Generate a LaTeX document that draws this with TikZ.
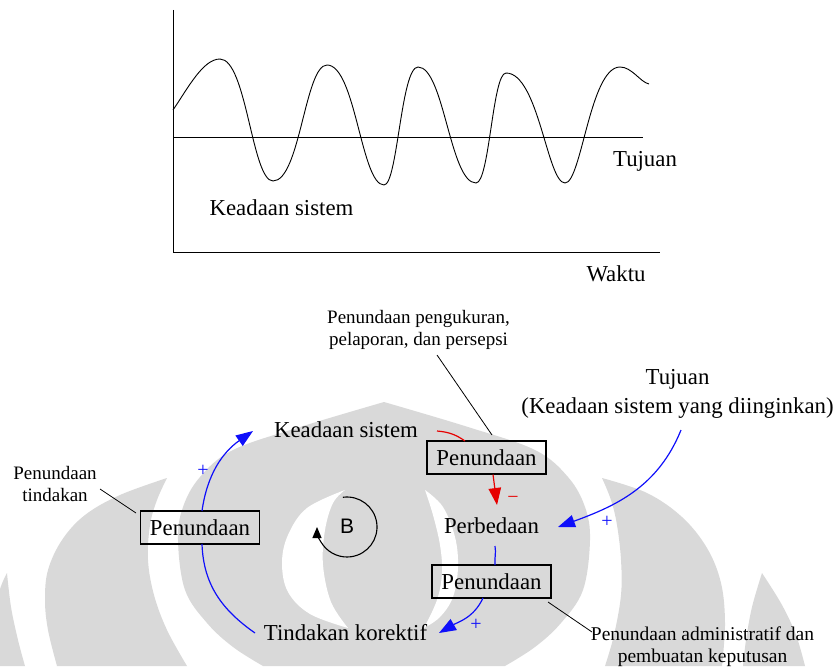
\documentclass[tikz,border=0pt]{standalone}
\usepackage{fontspec}
\setmainfont{Liberation Serif}
\newfontfamily\sansB{Liberation Sans}
\usetikzlibrary{arrows.meta,calc}
\definecolor{wm}{RGB}{217,217,217}
\definecolor{cblue}{RGB}{15,15,250}
\definecolor{cred}{RGB}{230,0,0}
\begin{document}
\begin{tikzpicture}[x=1pt,y=1pt,
  big/.style={inner sep=0pt,font=\fontsize{22.8}{27}\selectfont},
  small/.style={inner sep=0pt,align=center},
  delaybox/.style={draw,line width=1.3pt,minimum width=119pt,minimum height=33pt,inner sep=0pt,font=\fontsize{22.8}{27}\selectfont},
  bluecon/.style={draw=cblue,line width=1.2pt},
  redcon/.style={draw=cred,line width=1.2pt},
  bigtip/.style={-{Triangle[length=17pt,width=12.5pt]}},
  leader/.style={draw,line width=0.8pt},
  sign/.style={inner sep=0pt,font=\fontsize{20}{20}\selectfont},
  chartline/.style={draw,line width=0.9pt},
]
\useasboundingbox (0,0) rectangle (837,-666);

% ---------- watermark ----------
\fill[wm] plot[smooth,tension=0.6] coordinates {(384,-402) (300,-427) (233,-450) (200,-477) (183,-507) (178,-540) (185,-590) (207,-623) (233,-647) (263,-666)}
  -- plot[smooth,tension=0.6] coordinates {(505,-666) (535,-647) (561,-623) (583,-590) (590,-540) (585,-507) (568,-477) (535,-450) (468,-427) (384,-402)} -- cycle;
\fill[white] plot[smooth,tension=0.6] coordinates {(345,-490) (307,-508) (288,-535) (282,-563) (288,-592) (310,-614) (348,-628)}
  -- plot[smooth,tension=0.6] coordinates {(348,-628) (331,-602) (323,-565) (325,-530) (333,-503) (345,-490)} -- cycle;
\fill[white] plot[smooth,tension=0.6] coordinates {(425,-490) (443,-507) (455,-537) (458,-567) (453,-597) (440,-617) (424,-628)}
  -- plot[smooth,tension=0.6] coordinates {(424,-628) (437,-600) (442,-573) (440,-545) (433,-515) (425,-490)} -- cycle;
\fill[wm] plot[smooth,tension=0.6] coordinates {(167,-478) (120,-495) (85,-515) (62,-540) (48,-570) (45,-600) (48,-630) (57,-666)}
  -- plot[smooth,tension=0.6] coordinates {(187,-666) (167,-630) (154,-595) (148,-560) (150,-525) (157,-500) (167,-478)} -- cycle;
\fill[wm] plot[smooth,tension=0.6] coordinates {(602,-478) (647,-493) (682,-517) (707,-548) (721,-583) (725,-623) (722,-666)}
  -- plot[smooth,tension=0.6] coordinates {(605,-666) (614,-635) (621,-595) (621,-560) (617,-525) (611,-500) (602,-478)} -- cycle;
\fill[wm] plot[smooth,tension=0.6] coordinates {(7,-573) (-3,-600) (-12,-666)}
  -- plot[smooth,tension=0.6] coordinates {(25,-666) (18,-640) (11,-607) (7,-573)} -- cycle;
\fill[wm] plot[smooth,tension=0.6] coordinates {(762,-573) (782,-605) (796,-635) (805,-666)}
  -- plot[smooth,tension=0.6] coordinates {(743,-666) (746,-640) (752,-607) (762,-573)} -- cycle;

% ---------- top chart ----------
\draw[chartline] (173,-10) -- (173,-252) -- (660,-252);
\draw[chartline] (173,-137) -- (643,-137);
\draw[chartline] (173,-110)
  .. controls (188,-88) and (203,-59) .. (220,-59)
  .. controls (246.5,-59) and (252,-181) .. (273,-181)
  .. controls (300,-181) and (305,-65) .. (327,-65)
  .. controls (355.5,-65) and (361.2,-185) .. (384,-185)
  .. controls (397.6,-185) and (401,-67) .. (418,-67)
  .. controls (444,-67) and (450,-183) .. (476,-183)
  .. controls (489.5,-183) and (492.5,-73) .. (506,-73)
  .. controls (538.5,-73) and (547.3,-183) .. (565,-183)
  .. controls (581.5,-183) and (590,-67) .. (620,-67)
  .. controls (632,-67) and (640,-82) .. (649,-84);
\node[big,anchor=base] (cTuj) at (645,-166) {Tujuan};
\node[big,anchor=base] (cKs) at (281.5,-215) {Keadaan sistem};
\node[big,anchor=base] (cWak) at (616,-281.7) {Waktu};

% ---------- causal loop ----------
\node[small,font=\fontsize{19}{21.7}\selectfont] (note1) at (418.5,-329.6) {Penundaan pengukuran,\\pelaporan, dan persepsi};
\node[big,align=center,font=\fontsize{22.8}{28.3}\selectfont] (goal) at (677.5,-393.9) {Tujuan\\(Keadaan sistem yang diinginkan)};
\node[big,anchor=base] (ks) at (346,-437.7) {Keadaan sistem};
\node[delaybox] (d1) at (486.5,-457.5) {Penundaan};
\node[big,anchor=base] (perb) at (491.5,-533.3) {Perbedaan};
\node[delaybox] (d2) at (491.5,-581.5) {Penundaan};
\node[big,anchor=base] (tk) at (345.5,-640.7) {Tindakan korektif};
\node[delaybox] (d0) at (200,-527.5) {Penundaan};
\node[small,font=\fontsize{19}{22}\selectfont] (note0) at (55,-483.5) {Penundaan\\tindakan};
\node[small,font=\fontsize{19.5}{22.3}\selectfont] (note2) at (702.5,-646.6) {Penundaan administratif dan\\pembuatan keputusan};
\node[inner sep=0pt,anchor=base,font=\sansB\fontsize{21}{21}\selectfont] (loopB) at (347,-533.3) {B};

\node[sign,text=cblue] (p1) at (203,-471) {+};
\node[sign,text=cblue] (p2) at (607,-522) {+};
\node[sign,text=cblue] (p3) at (476,-625) {+};
\node[sign,text=cred] (m1) at (513,-500) {−};

% connectors
\draw[bluecon,bigtip] ($(d0.center)+(2,16.5)$) to[out=82,in=215] ($(ks.base)+(-93,6.7)$);
\draw[bluecon] ($(d0.center)+(2,-16.5)$) to[out=-88,in=145] ($(tk.base)+(-90.5,7.7)$);
\draw[redcon] ($(ks.base)+(91,6.7)$) to[out=-5,in=145] ($(d1.center)+(-21.5,16.5)$);
\draw[redcon,bigtip] ($(d1.center)+(6.5,-17)$) -- ($(perb.base)+(5.5,28.3)$);
\draw[bluecon,bigtip] ($(goal.center)+(3.5,-36.1)$) to[out=-112,in=20] ($(perb.base)+(66.5,6.3)$);
\draw[bluecon] ($(perb.base)+(3.5,-12.7)$) to[out=-80,in=95] ($(d2.center)+(3.5,16.5)$);
\draw[bluecon,bigtip] ($(d2.center)+(-8.5,-16.5)$) to[out=-115,in=30] ($(tk.base)+(93.5,7.7)$);

% leaders
\draw[leader] ($(note0.center)+(45,-5.5)$) -- ($(d0.center)+(-64,14.5)$);
\draw[leader] ($(note1.center)+(18.5,-25.4)$) -- ($(d1.center)+(5.5,22.5)$);
\draw[leader] ($(d2.center)+(56.5,-20.5)$) -- ($(note2.center)+(-110.5,14.6)$);

% loop marker
\draw[line width=1.1pt,-{Triangle[length=11pt,width=9pt]}] ($(loopB.base)+(0,6.3)$) ++(98:30) arc[start angle=98,end angle=-180,radius=30];
\end{tikzpicture}
\end{document}
